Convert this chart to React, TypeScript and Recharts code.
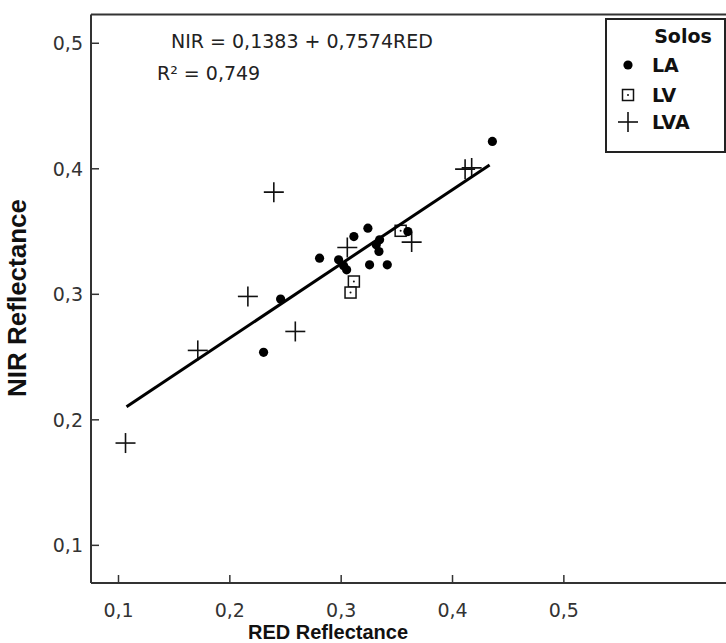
import React from 'react';
import { ComposedChart, Scatter, XAxis, YAxis, ReferenceLine } from 'recharts';

// Series values (RED reflectance, NIR reflectance)
const laRed = [0.4358, 0.324, 0.3114, 0.2806, 0.2977, 0.3022, 0.3049, 0.3345, 0.3315, 0.3339, 0.3255, 0.3414, 0.3599, 0.2456, 0.2303];
const laNir = [0.4218, 0.3527, 0.346, 0.3288, 0.3275, 0.3227, 0.3195, 0.3434, 0.3394, 0.3341, 0.3235, 0.3235, 0.35, 0.2962, 0.2538];
const lvRed = [0.3114, 0.3084, 0.3534];
const lvNir = [0.3102, 0.3014, 0.3506];
const lvaRed = [0.1063, 0.1712, 0.2162, 0.2395, 0.2588, 0.3055, 0.3633, 0.4113, 0.4172];
const lvaNir = [0.1815, 0.2553, 0.2983, 0.3814, 0.2704, 0.3373, 0.3416, 0.3997, 0.4007];
const regRed = [0.1072, 0.4333];
const regNir = [0.2104, 0.4031];

const xTicks = [0.1, 0.2, 0.3, 0.4, 0.5];
const yTicks = [0.1, 0.2, 0.3, 0.4, 0.5];
const xDomain = [0.0753, 0.66];
const yDomain = [0.07, 0.523];

const equation = 'NIR = 0,1383 + 0,7574RED';
const r2Text = 'R² = 0,749';
const legendTitle = 'Solos';
const seriesNames = ['LA', 'LV', 'LVA'];
const xTitle = 'RED Reflectance';
const yTitle = 'NIR Reflectance';

const zip = (xs: number[], ys: number[]) => xs.map((x, i) => ({ x, y: ys[i] }));
const laData = zip(laRed, laNir);
const lvData = zip(lvRed, lvNir);
const lvaData = zip(lvaRed, lvaNir);
const regData = zip(regRed, regNir);

const fmt = (v: number) => v.toFixed(1).replace('.', ',');
const TICK_FONT = "'DejaVu Sans', Verdana, sans-serif";
const LABEL_FONT = "'Liberation Sans', Arial, sans-serif";
const AXIS_COLOR = '#333';

const DotShape = (p: any) => <circle cx={p.cx} cy={p.cy} r={4.6} fill="#000" />;
const SquareShape = (p: any) => (
  <g>
    <rect x={p.cx - 5.5} y={p.cy - 5.5} width={11} height={11} fill="#fff" stroke="#111" strokeWidth={1.5} />
    <circle cx={p.cx} cy={p.cy} r={1} fill="#111" />
  </g>
);
const CrossShape = (p: any) => (
  <g stroke="#111" strokeWidth={1.6}>
    <line x1={p.cx - 10} x2={p.cx + 10} y1={p.cy} y2={p.cy} />
    <line x1={p.cx} x2={p.cx} y1={p.cy - 10} y2={p.cy + 10} />
  </g>
);
const NoShape = () => <g />;

const XTick = (props: any) => {
  const { x, y, payload } = props;
  return (
    <g>
      <line x1={x} x2={x} y1={y} y2={y - 8} stroke={AXIS_COLOR} strokeWidth={1.5} />
      <text x={x} y={y + 34} textAnchor="middle" fontFamily={TICK_FONT} fontSize={19} fill="#333">
        {fmt(payload.value)}
      </text>
    </g>
  );
};

const YTick = (props: any) => {
  const { x, y, payload } = props;
  return (
    <g>
      <line x1={x} x2={x + 8} y1={y} y2={y} stroke={AXIS_COLOR} strokeWidth={1.5} />
      <text x={x - 8} y={y + 7} textAnchor="end" fontFamily={TICK_FONT} fontSize={19} fill="#333">
        {fmt(payload.value)}
      </text>
    </g>
  );
};

const Legend = () => (
  <svg style={{ position: 'absolute', left: 605, top: 18, overflow: 'visible' }} width={121} height={135}>
    <rect x={1} y={1} width={119} height={133} fill="#fff" stroke="#222" strokeWidth={2} />
    <text x={78} y={25} textAnchor="middle" fontFamily={TICK_FONT} fontWeight="bold" fontSize={19} fill="#111">
      {legendTitle}
    </text>
    <DotShape cx={23} cy={47} />
    <SquareShape cx={23} cy={77} />
    <CrossShape cx={23} cy={104} />
    {seriesNames.map((n, i) => (
      <text key={n} x={47} y={[54, 84, 111][i]} fontFamily={TICK_FONT} fontWeight="bold" fontSize={19} fill="#111">
        {n}
      </text>
    ))}
  </svg>
);

export default function App() {
  return (
    <div style={{ position: 'relative', width: 726, height: 643, overflow: 'hidden', background: '#fff' }}>
      <style>{`body{margin:0;overflow:hidden;background:#fff}`}</style>
      <ComposedChart width={742} height={643} margin={{ top: 14.4, right: 0, bottom: 0, left: 0 }}>
        <XAxis
          type="number"
          dataKey="x"
          domain={xDomain}
          allowDataOverflow
          ticks={xTicks}
          tick={<XTick />}
          tickLine={false}
          tickSize={0}
          tickMargin={0}
          height={60}
          axisLine={{ stroke: AXIS_COLOR, strokeWidth: 2 }}
        />
        <YAxis
          type="number"
          dataKey="y"
          domain={yDomain}
          allowDataOverflow
          ticks={yTicks}
          tick={<YTick />}
          tickLine={false}
          tickSize={0}
          tickMargin={0}
          width={91}
          axisLine={{ stroke: AXIS_COLOR, strokeWidth: 2 }}
        />
        <ReferenceLine y={yDomain[1]} stroke={AXIS_COLOR} strokeWidth={2} />
        <Scatter name="LVA" data={lvaData} shape={CrossShape} isAnimationActive={false} />
        <Scatter name="LV" data={lvData} shape={SquareShape} isAnimationActive={false} />
        <Scatter name="LA" data={laData} shape={DotShape} isAnimationActive={false} />
        <Scatter
          name="Regressão"
          data={regData}
          shape={NoShape}
          line={{ stroke: '#000', strokeWidth: 3 }}
          isAnimationActive={false}
        />
      </ComposedChart>
      <svg style={{ position: 'absolute', left: 0, top: 0, pointerEvents: 'none' }} width={726} height={643}>
        <text x={171} y={48} fontFamily={TICK_FONT} fontSize={19} fill="#222">{equation}</text>
        <text x={157} y={80} fontFamily={TICK_FONT} fontSize={19} fill="#222">{r2Text}</text>
        <text
          transform="translate(26,298) rotate(-90)"
          textAnchor="middle"
          fontFamily={LABEL_FONT}
          fontWeight="bold"
          fontSize={26}
          fill="#111"
        >
          {yTitle}
        </text>
        <text x={328} y={639} textAnchor="middle" fontFamily={LABEL_FONT} fontWeight="bold" fontSize={20} fill="#111">
          {xTitle}
        </text>
      </svg>
      <Legend />
    </div>
  );
}
